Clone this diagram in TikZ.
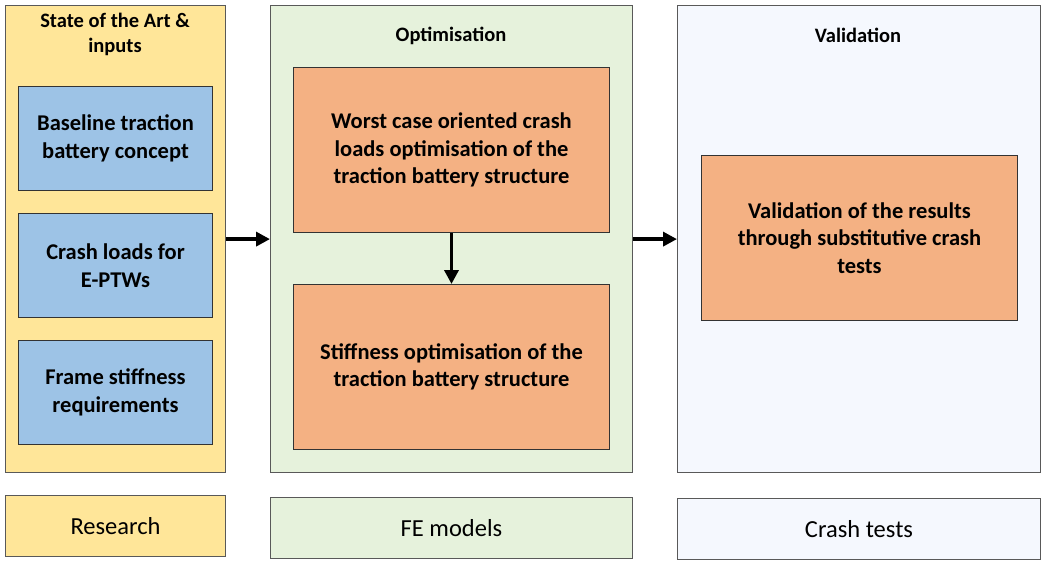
\documentclass[tikz,border=0pt]{standalone}
\usepackage{fontspec}
\setmainfont{Carlito}
\usetikzlibrary{arrows.meta}
\definecolor{stateyellow}{HTML}{FFE699}
\definecolor{optgreen}{HTML}{E6F2DC}
\definecolor{valblue}{HTML}{F5F8FE}
\definecolor{inblue}{HTML}{9DC3E6}
\definecolor{taskorange}{HTML}{F4B183}
\begin{document}
\begin{tikzpicture}[x=1pt, y=-1pt,
					phase/.style={draw=black!65, line width=1.2pt, anchor=north west, inner sep=0pt},
					input/.style={draw=black!80, line width=1pt, fill=inblue, anchor=north west, minimum width=194pt, minimum height=104pt, align=center, font=\fontsize{22.5}{27.5}\selectfont\bfseries},
					task/.style={draw=black!80, line width=1pt, fill=taskorange, anchor=north west, minimum width=316pt, minimum height=165pt, align=center, font=\fontsize{22.5}{27.5}\selectfont\bfseries},
					heading/.style={align=center, font=\fontsize{20.5}{25}\selectfont\bfseries},
					tag/.style={draw=black!65, line width=1pt, anchor=north west, minimum height=61pt, font=\fontsize{24.5}{28}\selectfont},
					flow/.style={line width=3.5pt, -{Triangle[length=14pt, width=14pt]}}]
\useasboundingbox (0,0) rectangle (1042,560);
% phases
\node[phase, fill=stateyellow, minimum width=220pt, minimum height=467pt] (state) at (5,5) {};
\node[phase, fill=optgreen, minimum width=362pt, minimum height=467pt] (optim) at (270,5) {};
\node[phase, fill=valblue, minimum width=363pt, minimum height=467pt] (valid) at (677,5) {};
\node[heading] (statetitle) at (115,34) {State of the Art \&\\inputs};
\node[heading] (optimtitle) at (451,36) {Optimisation};
\node[heading] (validtitle) at (858,35) {Validation};
% inputs
\node[input] (baseline) at (18,86) {Baseline traction\\battery concept};
\node[input] (crashloads) at (18,213) {Crash loads for\\E-PTWs};
\node[input] (frame) at (18,340) {Frame stiffness\\requirements};
% tasks
\node[task] (worstcase) at (293,67) {Worst case oriented crash\\loads optimisation of the\\traction battery structure};
\node[task] (stiffness) at (293,284) {Stiffness optimisation of the\\traction battery structure};
\node[task] (validation) at (701,155) {Validation of the results\\through substitutive crash\\tests};
% tools
\node[tag, fill=stateyellow, minimum width=220pt] (research) at (5,495) {Research};
\node[tag, fill=optgreen, minimum width=362pt] (femodels) at (270,497) {FE models};
\node[tag, fill=valblue, minimum width=363pt] (crashtests) at (677,498) {Crash tests};
% flow
\draw[flow] (state.east) -- (optim.west);
\draw[flow] (optim.east) -- (valid.west);
\draw[flow] (worstcase.south) -- (stiffness.north);
\end{tikzpicture}
\end{document}
